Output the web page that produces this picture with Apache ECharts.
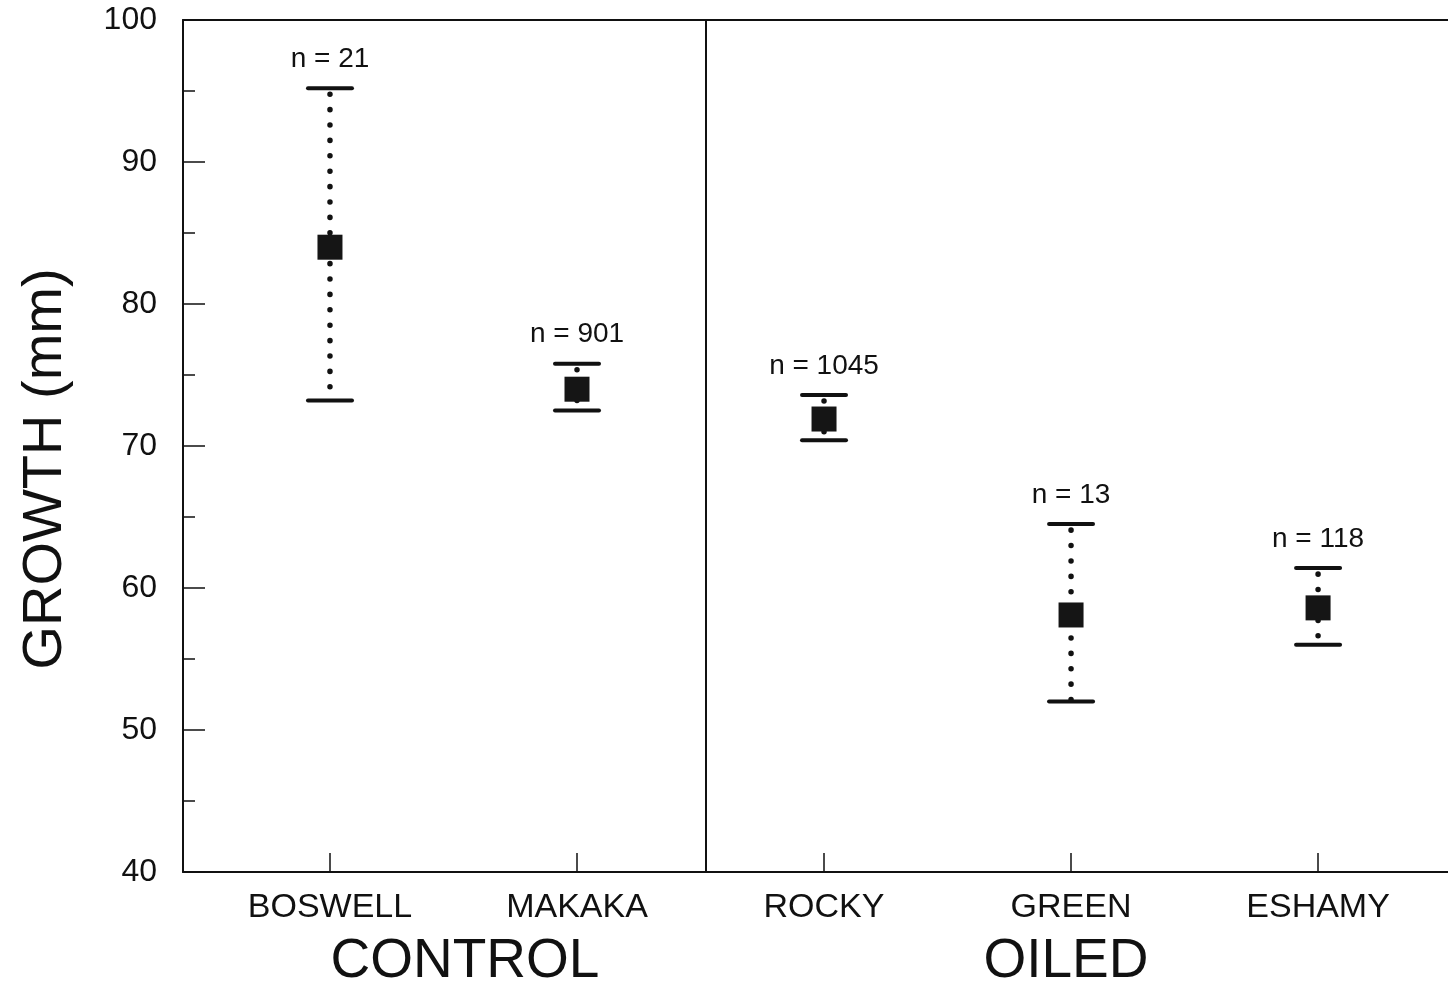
<!DOCTYPE html>
<html>
<head>
<meta charset="utf-8">
<style>
  html, body { margin: 0; padding: 0; background: #fff; }
  #chart { width: 1448px; height: 984px; }
</style>
<script src="https://cdn.jsdelivr.net/npm/echarts@6/dist/echarts.min.js"></script>
</head>
<body>
<div id="chart"></div>
<script>
// ---- data ----
var categories = ['BOSWELL', 'MAKAKA', 'ROCKY', 'GREEN', 'ESHAMY'];
var means      = [84.0, 74.0, 71.9, 58.1, 58.6];
var upper      = [95.2, 75.8, 73.6, 64.5, 61.4];
var lower      = [73.2, 72.5, 70.4, 52.0, 56.0];
var nCounts    = [21, 901, 1045, 13, 118];
var groups     = ['CONTROL', 'OILED'];
var yTitle     = 'GROWTH (mm)';
var separatorAt = 2.515; // boundary between control and oiled sites

var FONT = '"Liberation Sans", Arial, Helvetica, sans-serif';
var INK = '#111';

var positions = categories.map(function (c, i) { return i + 1; });
var barData = categories.map(function (c, i) { return [i + 1, lower[i], upper[i], nCounts[i]]; });
var meanData = categories.map(function (c, i) { return [i + 1, means[i]]; });

var chart = echarts.init(document.getElementById('chart'), null, { renderer: 'canvas' });

var option = {
  backgroundColor: '#fff',
  animation: false,
  grid: { left: 183, right: 0, top: 20, bottom: 112, containLabel: false },
  xAxis: [{
    type: 'value',
    min: 0.405,
    max: 5.526,
    position: 'bottom',
    axisLine: { show: true, onZero: false, lineStyle: { color: INK, width: 2 } },
    axisTick: { show: true, inside: true, length: 19, customValues: positions, lineStyle: { color: INK, width: 1.5 } },
    axisLabel: {
      show: true, customValues: positions, margin: 19,
      color: INK, fontSize: 34, fontFamily: FONT,
      formatter: function (v) { return categories[Math.round(v) - 1] || ''; }
    },
    splitLine: { show: false }
  }, {
    type: 'value',
    min: 0.405,
    max: 5.526,
    position: 'top',
    axisLine: { show: true, onZero: false, lineStyle: { color: INK, width: 2 } },
    axisTick: { show: false },
    axisLabel: { show: false },
    splitLine: { show: false }
  }],
  yAxis: {
    type: 'value',
    min: 40,
    max: 100,
    interval: 10,
    axisLine: { show: true, onZero: false, lineStyle: { color: INK, width: 2 } },
    axisTick: { show: true, inside: true, length: 22, lineStyle: { color: INK, width: 1.5 } },
    minorTick: { show: true, splitNumber: 2, length: 12, lineStyle: { color: INK, width: 1.5 } },
    axisLabel: { color: INK, fontSize: 32, fontFamily: FONT, margin: 26 },
    splitLine: { show: false }
  },
  graphic: [
    { type: 'text', x: 465, y: 962, style: { text: groups[0], fill: INK, font: '55px ' + FONT, align: 'center', verticalAlign: 'middle' } },
    { type: 'text', x: 1066, y: 962, style: { text: groups[1], fill: INK, font: '55px ' + FONT, align: 'center', verticalAlign: 'middle' } },
    { type: 'text', x: 46, y: 469, rotation: Math.PI / 2, style: { text: yTitle, fill: INK, font: '56px ' + FONT, align: 'center', verticalAlign: 'middle' } }
  ],
  series: [{
    type: 'custom',
    data: barData,
    z: 2,
    encode: { x: 0, y: [1, 2] },
    renderItem: function (params, api) {
      var x = api.value(0), lo = api.value(1), hi = api.value(2), n = api.value(3);
      var pLo = api.coord([x, lo]);
      var pHi = api.coord([x, hi]);
      var half = 22;
      return {
        type: 'group',
        children: [
          { type: 'line', shape: { x1: pHi[0], y1: pHi[1] + 6, x2: pLo[0], y2: pLo[1] },
            style: { stroke: INK, lineWidth: 5.5, lineDash: [0.1, 15.3], lineCap: 'round' } },
          { type: 'line', shape: { x1: pHi[0] - half, y1: pHi[1], x2: pHi[0] + half, y2: pHi[1] },
            style: { stroke: INK, lineWidth: 4, lineCap: 'round' } },
          { type: 'line', shape: { x1: pLo[0] - half, y1: pLo[1], x2: pLo[0] + half, y2: pLo[1] },
            style: { stroke: INK, lineWidth: 4, lineCap: 'round' } },
          { type: 'text', style: { text: 'n = ' + n, x: pHi[0], y: pHi[1] - 15, align: 'center', verticalAlign: 'bottom',
            font: '28px ' + FONT, fill: INK } }
        ]
      };
    }
  }, {
    type: 'scatter',
    data: meanData,
    z: 3,
    symbol: 'rect',
    symbolSize: 25,
    itemStyle: { color: '#151515', opacity: 1 },
    markLine: {
      silent: true,
      symbol: ['none', 'none'],
      label: { show: false },
      lineStyle: { color: INK, width: 2, type: 'solid' },
      data: [{ xAxis: separatorAt }]
    }
  }]
};

chart.setOption(option);
</script>
</body>
</html>
